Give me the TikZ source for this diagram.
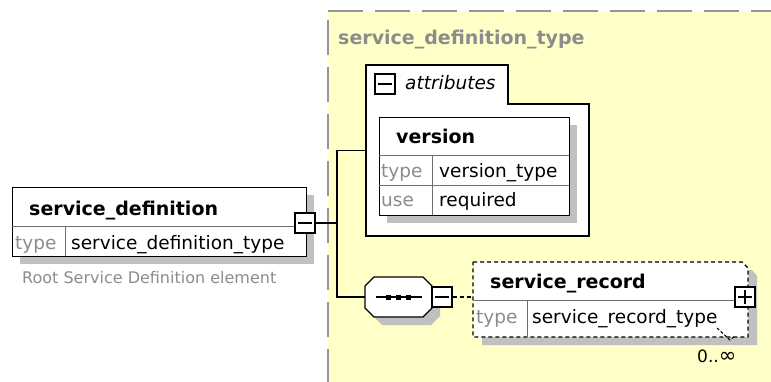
\documentclass[tikz,border=0pt]{standalone}
\usepackage{fontspec}
\setmainfont{DejaVu Sans}
\usetikzlibrary{calc}
\definecolor{bgyellow}{RGB}{255,255,200}
\definecolor{shadowgray}{RGB}{192,192,192}
\definecolor{txtgray}{RGB}{140,140,140}
\definecolor{bordergray}{RGB}{150,150,150}
\definecolor{divgray}{RGB}{110,110,110}
\begin{document}
\begin{tikzpicture}[x=1pt,y=-1pt,
  boxframe/.style={draw=black, line width=1.4pt, fill=white, inner sep=0pt, anchor=north west},
  shade/.style={fill=shadowgray, draw=none},
  hdr/.style={font=\fontsize{19}{20}\selectfont\bfseries, anchor=base west, inner sep=0pt},
  val/.style={font=\fontsize{18.5}{20}\selectfont, anchor=base west, inner sep=0pt},
  lbl/.style={font=\fontsize{18.5}{20}\selectfont, text=txtgray, anchor=base west, inner sep=0pt},
  divline/.style={draw=divgray, line width=1pt},
  conn/.style={draw=black, line width=1.5pt},
  togglebox/.style={draw=black, line width=1.2pt, fill=white, minimum width=20pt, minimum height=20pt, inner sep=0pt},
  sign/.style={draw=black, line width=1.2pt}
]
\useasboundingbox (0,0) rectangle (771,382);
% yellow type area
\fill[bgyellow] (328,11) rectangle (771,382);
\draw[bordergray, line width=1.6pt, dash pattern=on 35pt off 12pt] (328,11) -- (771,11);
\draw[bordergray, line width=1.6pt, dash pattern=on 35pt off 12pt] (328,20) -- (328,382);
\node[font=\fontsize{19}{20}\selectfont\bfseries, text=txtgray, anchor=base west, inner sep=0pt] (title) at (338,45) {service\_definition\_type};

% service_definition element
\fill[shade] (20,195) rectangle (314,264);
\node[boxframe, minimum width=294pt, minimum height=69pt] (sd) at (12,187) {};
\draw[divline] (12,227) -- (306,227);
\draw[divline] (65,227) -- (65,256);
\node[hdr] (sdname) at (29,215) {service\_definition};
\node[lbl] (sdtl) at (15,250) {type};
\node[val] (sdtype) at (71,250) {service\_definition\_type};
\node[font=\fontsize{16}{18}\selectfont, text=txtgray, anchor=base west, inner sep=0pt] (sdcap) at (22,283) {Root Service Definition element};
\node[togglebox] (sdm) at (305,223) {};
\draw[sign] ($(sdm.west)+(4,0)$) -- ($(sdm.east)+(-4,0)$);

% attributes box
\draw[line width=1.4pt, fill=white] (366,65) -- (508,65) -- (508,104) -- (589,104) -- (589,236) -- (366,236) -- cycle;
\node[inner sep=0pt, minimum width=223pt, minimum height=171pt, anchor=north west] (attr) at (366,65) {};
\node[togglebox] (attrm) at (385,84) {};
\draw[sign] ($(attrm.west)+(4,0)$) -- ($(attrm.east)+(-4,0)$);
\node[font=\fontsize{18.5}{20}\selectfont\itshape, anchor=base west, inner sep=0pt] (attrl) at (405,90) {attributes};

% version attribute
\fill[shade] (387,125) rectangle (577,223);
\node[boxframe, minimum width=190pt, minimum height=98pt] (ver) at (379,117) {};
\draw[divline] (379,156) -- (569,156);
\draw[divline] (379,186) -- (569,186);
\draw[divline] (432,156) -- (432,215);
\node[hdr] (vername) at (396,144) {version};
\node[lbl] (vertl) at (381,178) {type};
\node[val] (vertype) at (439,178) {version\_type};
\node[lbl] (verul) at (381,207) {use};
\node[val] (veruse) at (439,207) {required};

% sequence compositor
\node[inner sep=0pt, minimum width=67pt, minimum height=40pt] (seq) at (398.5,297) {};
\fill[shade] (382,285) -- (431,285) -- (440,294) -- (440,316) -- (431,325) -- (382,325) -- (373,316) -- (373,294) -- cycle;
\draw[line width=1.4pt, fill=white] (374,277) -- (423,277) -- (432,286) -- (432,308) -- (423,317) -- (374,317) -- (365,308) -- (365,286) -- cycle;
\draw[line width=1.2pt] ($(seq.center)+(-23,0)$) -- ($(seq.center)+(23,0)$);
\foreach \dx in {-10,0,10} \fill ($(seq.center)+(\dx-2.5,-2.5)$) rectangle ++(5,5);
\node[togglebox] (seqm) at (442,297) {};
\draw[sign] ($(seqm.west)+(4,0)$) -- ($(seqm.east)+(-4,0)$);

% service_record element
\fill[shade] (482,270) -- (752,270) -- (757,276) -- (757,345) -- (482,345) -- cycle;
\draw[line width=1.4pt, fill=white, dash pattern=on 4pt off 3pt] (473,262) -- (742,262) -- (748,268) -- (748,337) -- (473,337) -- cycle;
\node[inner sep=0pt, minimum width=275pt, minimum height=75pt, anchor=north west] (sr) at (473,262) {};
\draw[divline] (473,300) -- (748,300);
\draw[divline] (527,300) -- (527,337);
\node[hdr] (srname) at (490,288) {service\_record};
\node[lbl] (srtl) at (476,323) {type};
\node[val] (srtype) at (532,323) {service\_record\_type};
\node[togglebox] (srp) at (745,297) {};
\draw[sign] ($(srp.west)+(4,0)$) -- ($(srp.east)+(-4,0)$);
\draw[sign] ($(srp.north)+(0,4)$) -- ($(srp.south)+(0,-4)$);
\draw[line width=1pt, dash pattern=on 3pt off 2pt] (717,328) -- (730,340) -- (735,336);
\node[font=\fontsize{17}{18}\selectfont, anchor=base west, inner sep=0pt] (srocc) at (697,362) {0..{\fontsize{21}{22}\selectfont ∞}};

% connectors
\coordinate (jn) at (337,223);
\draw[conn] (sdm.east) -- (jn);
\draw[conn] (attr.west) -| (jn) |- (seq.west);
\draw[line width=1.4pt, dash pattern=on 4pt off 3pt] (seqm.east) -- (seqm.east -| sr.west);
\end{tikzpicture}
\end{document}
